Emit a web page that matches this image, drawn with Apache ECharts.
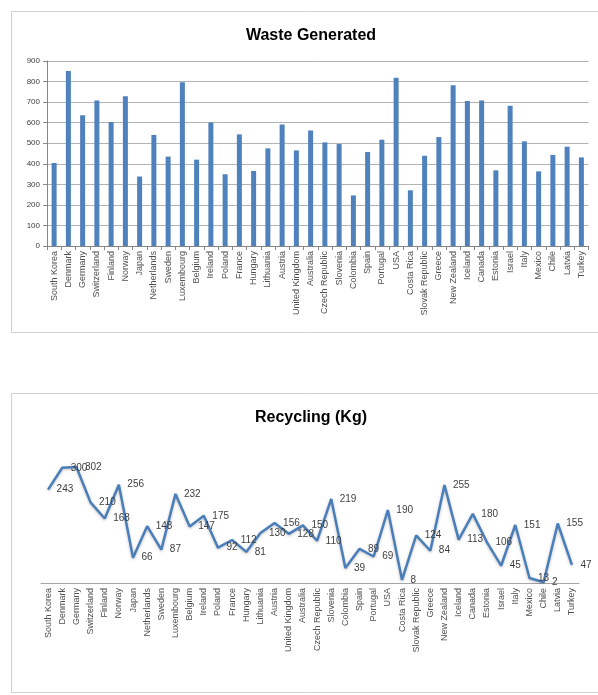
<!DOCTYPE html>
<html>
<head>
<meta charset="utf-8">
<script src="https://cdn.jsdelivr.net/npm/echarts@6/dist/echarts.min.js"></script>
<style>
html,body{margin:0;padding:0;background:#fff;}
#c{width:598px;height:695px;}
</style>
</head>
<body>
<div id="c"></div>
<script>
const countries = ["South Korea","Denmark","Germany","Switzerland","Finland","Norway","Japan","Netherlands","Sweden","Luxembourg","Belgium","Ireland","Poland","France","Hungary","Lithuania","Austria","United Kingdom","Australia","Czech Republic","Slovenia","Colombia","Spain","Portugal","USA","Costa Rica","Slovak Republic","Greece","New Zealand","Iceland","Canada","Estonia","Israel","Italy","Mexico","Chile","Latvia","Turkey"];
const wasteGenerated = [404,851,636,708,603,729,338,540,435,797,420,601,349,543,365,475,591,465,562,504,496,246,457,517,819,271,439,530,782,706,708,368,682,509,363,443,483,431];
const recyclingKg = [243,300,302,210,168,256,66,148,87,232,147,175,92,112,81,130,156,128,150,110,219,39,89,69,190,8,124,84,255,113,180,106,45,151,13,2,155,47];
const wasteTitle = "Waste Generated";
const recyclingTitle = "Recycling (Kg)";

const chart = echarts.init(document.getElementById('c'), null, {renderer:'canvas'});
const font = "'Liberation Sans', Arial, sans-serif";
chart.setOption({
  animation:false,
  textStyle:{fontFamily:font},
  graphic:[
    {type:'rect', shape:{x:11.5,y:11.5,width:590,height:321}, style:{fill:'none',stroke:'#d0d0d0',lineWidth:1}},
    {type:'rect', shape:{x:11.5,y:393.5,width:590,height:299}, style:{fill:'none',stroke:'#d0d0d0',lineWidth:1}}
  ],
  title:[
    {text:wasteTitle, left:306, top:23, textAlign:'center', textStyle:{fontFamily:font,fontSize:16,fontWeight:'bold',color:'#000'}},
    {text:recyclingTitle, left:306, top:405, textAlign:'center', textStyle:{fontFamily:font,fontSize:16,fontWeight:'bold',color:'#000'}}
  ],
  grid:[
    {left:47, right:9.5, top:61, height:185},
    {left:41, right:19, top:448.6, height:134.4}
  ],
  xAxis:[
    {type:'category', gridIndex:0, data:countries, boundaryGap:true,
     axisLine:{lineStyle:{color:'#868686'}},
     axisTick:{show:true, length:4, interval:0, lineStyle:{color:'#868686'}},
     axisLabel:{interval:0, rotate:90, fontSize:9, color:'#505050', margin:5}},
    {type:'category', gridIndex:1, data:countries, boundaryGap:true,
     axisLine:{lineStyle:{color:'#a6a6a6'}},
     axisTick:{show:false},
     axisLabel:{interval:0, rotate:90, fontSize:9, color:'#505050', margin:5}}
  ],
  yAxis:[
    {type:'value', gridIndex:0, min:0, max:900, interval:100,
     axisLine:{show:true, lineStyle:{color:'#868686'}},
     axisTick:{show:true, length:4, lineStyle:{color:'#868686'}},
     splitLine:{show:true, lineStyle:{color:'#b4b4b4'}},
     axisLabel:{fontSize:8, color:'#404040', margin:7}},
    {type:'value', gridIndex:1, min:0, max:350, show:false, splitLine:{show:false}}
  ],
  series:[
    {type:'bar', xAxisIndex:0, yAxisIndex:0, data:wasteGenerated, barWidth:5,
     itemStyle:{color:'#4F81BD'}},
    {type:'line', xAxisIndex:1, yAxisIndex:1, data:recyclingKg,
     symbol:'circle', symbolSize:1, showSymbol:true,
     itemStyle:{color:'rgba(74,126,187,0)'},
     lineStyle:{color:'#4A7EBB', width:2.5, shadowColor:'rgba(0,0,0,0.25)', shadowBlur:3, shadowOffsetY:1},
     label:{show:true, position:'right', distance:8, fontSize:10, color:'#404040'}}
  ]
});
</script>
</body>
</html>
